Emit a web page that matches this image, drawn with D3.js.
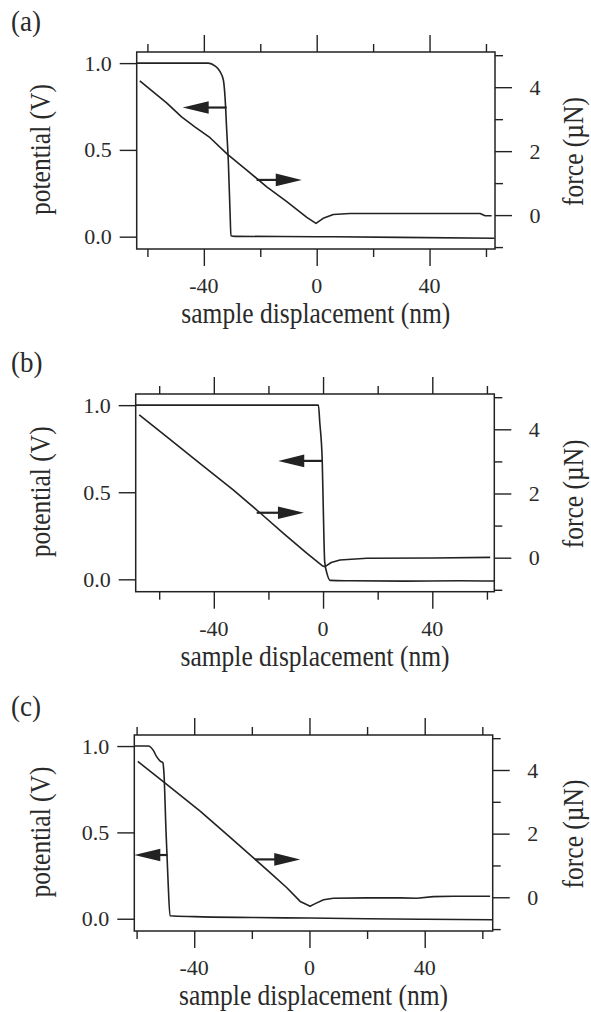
<!DOCTYPE html>
<html><head><meta charset="utf-8">
<script src="https://cdn.jsdelivr.net/npm/d3@7"></script>
<style>
body{margin:0;background:#fff}
svg{display:block}
text{font-family:"Liberation Serif","Times New Roman",serif;fill:#2a2a2a}
</style>
</head><body>
<svg id="chart" width="591" height="1012"></svg>
<script>
// ---------------- data ----------------
const xTicks = [-60, -40, -20, 0, 20, 40, 60];
const xMajor = [-40, 0, 40];
const potTicks = [0, 0.5, 1.0];
const forceTicks = [-1, 0, 1, 2, 3, 4, 5];
const forceMajor = [0, 2, 4];

const panelLabels = ["(a)", "(b)", "(c)"];
const xTitle = "sample displacement (nm)";
const potTitle = "potential (V)";
const forceTitle = "force (\u00B5N)";

// panel (a)
const aPotX = [-63.8, -38.4, -36.1, -34.3, -33.1, -32.5, -31.9, -31.3, -30.7, -30.4, -29, 0, 29.5, 63];
const aPotY = [1.0, 1.0, 0.984, 0.952, 0.904, 0.807, 0.615, 0.423, 0.135, 0.006, 0.002, 0.0, -0.004, -0.009];
const aForceX = [-62.7, -53.2, -47.9, -43.2, -37.8, -31.6, -24.8, -17.7, -10.6, -3.5, -0.25, 2.3, 5.9, 11.8, 30, 53.2, 57.9, 59.7, 62];
const aForceY = [4.20, 3.51, 3.07, 2.76, 2.42, 1.90, 1.41, 0.88, 0.42, -0.07, -0.26, -0.10, 0.02, 0.05, 0.05, 0.05, 0.05, -0.02, -0.02];
const aArrowScale = ["pot", "force"];
const aArrowY = [0.744, 1.10];
const aArrowFrom = [-31.9, -21.3];
const aArrowTo = [-47.5, -5.3];

// panel (b)
const bPotX = [-68.6, -1.7, -1.2, -0.3, 0.3, 0.6, 1.5, 2.6, 10, 30, 50, 62.7];
const bPotY = [1.0, 1.0, 0.9, 0.68, 0.25, 0.10, 0.03, -0.006, -0.008, -0.01, -0.008, -0.01];
const bForceX = [-67.3, -57.3, -45.1, -32.9, -23.1, -14.5, -6.0, -0.1, 0.7, 3.0, 6.2, 16, 40.4, 61.2];
const bForceY = [4.45, 3.77, 2.94, 2.11, 1.40, 0.76, 0.14, -0.26, -0.28, -0.15, -0.07, -0.02, -0.01, 0.01];
const bArrowScale = ["pot", "force"];
const bArrowY = [0.68, 1.40];
const bArrowFrom = [-0.2, -24.3];
const bArrowTo = [-16.4, -7.0];

// panel (c)
const cPotX = [-60.8, -55.9, -54.2, -53, -51.8, -50.9, -50.5, -49.8, -49.1, -48.4, -40, -20, 0, 20, 40, 63.6];
const cPotY = [1.0, 1.0, 0.975, 0.937, 0.913, 0.904, 0.84, 0.51, 0.225, 0.017, 0.012, 0.007, 0.004, 0.0, -0.003, -0.006];
const cForceX = [-59.6, -49, -37.95, -28, -18.85, -13, -7.85, -3.23, -1, 0.2, 2.0, 4.9, 8.3, 20, 31.5, 37.3, 43, 50, 62.7];
const cForceY = [4.27, 3.51, 2.71, 1.92, 1.19, 0.72, 0.30, -0.13, -0.23, -0.28, -0.20, -0.08, -0.03, -0.02, -0.02, -0.03, 0.02, 0.03, 0.03];
const cArrowScale = ["pot", "force"];
const cArrowY = [0.369, 1.19];
const cArrowFrom = [-49.3, -18.85];
const cArrowTo = [-60.8, -3.2];

// ---------------- layout ----------------
const layouts = [
  {left: 136.7, right: 495, top: 52, bottom: 249, xDom: [-63.8, 63.2], labelY: 31},
  {left: 135.7, right: 494.3, top: 394, bottom: 591.7, xDom: [-68.6, 62.7], labelY: 372},
  {left: 134.3, right: 492.7, top: 735, bottom: 931, xDom: [-60.8, 63.6], labelY: 716}
];
const potDom = [-0.071, 1.064];
const forceDom = [-1.06, 5.1];

const panels = [
  {potX: aPotX, potY: aPotY, fX: aForceX, fY: aForceY, arS: aArrowScale, arY: aArrowY, arF: aArrowFrom, arT: aArrowTo},
  {potX: bPotX, potY: bPotY, fX: bForceX, fY: bForceY, arS: bArrowScale, arY: bArrowY, arF: bArrowFrom, arT: bArrowTo},
  {potX: cPotX, potY: cPotY, fX: cForceX, fY: cForceY, arS: cArrowScale, arY: cArrowY, arF: cArrowFrom, arT: cArrowTo}
];

const ink = "#222";
const svg = d3.select("#chart");
const TICK_FS = 22, TITLE_FS = 25.5, STRETCH = 1.12;
const MAJ = 17, MIN = 8;
const FONT = '"Liberation Serif","Times New Roman",serif';

function styleAxis(g) {
  g.select(".domain").remove();
  g.selectAll(".tick line").attr("stroke", ink).attr("stroke-width", 1.4);
  g.selectAll("text").remove();
}
function label(g, x, y, txt, anchor) {
  g.append("text").attr("x", x).attr("y", y).attr("text-anchor", anchor)
    .attr("font-size", TICK_FS).style("font-family", FONT).attr("fill", "#2a2a2a").text(txt);
}

panels.forEach((p, i) => {
  const L = layouts[i];
  const g = svg.append("g");
  const x = d3.scaleLinear().domain(L.xDom).range([L.left, L.right]);
  const yP = d3.scaleLinear().domain(potDom).range([L.bottom, L.top]);
  const yF = d3.scaleLinear().domain(forceDom).range([L.bottom, L.top]);
  const minorX = xTicks.filter(v => !xMajor.includes(v));
  const minorF = forceTicks.filter(v => !forceMajor.includes(v));

  // top axis
  g.append("g").attr("transform", `translate(0,${L.top})`)
    .call(d3.axisTop(x).tickValues(xMajor).tickSize(MAJ)).call(styleAxis);
  g.append("g").attr("transform", `translate(0,${L.top})`)
    .call(d3.axisTop(x).tickValues(minorX).tickSize(MIN)).call(styleAxis);
  // bottom axis
  g.append("g").attr("transform", `translate(0,${L.bottom})`)
    .call(d3.axisBottom(x).tickValues(xMajor).tickSize(MAJ)).call(styleAxis);
  g.append("g").attr("transform", `translate(0,${L.bottom})`)
    .call(d3.axisBottom(x).tickValues(minorX).tickSize(MIN)).call(styleAxis);
  xMajor.forEach(v => label(g, x(v), L.bottom + 44, v < 0 ? "-" + Math.abs(v) : String(v), "middle"));
  // left axis
  g.append("g").attr("transform", `translate(${L.left},0)`)
    .call(d3.axisLeft(yP).tickValues(potTicks).tickSize(MAJ)).call(styleAxis);
  potTicks.forEach(v => label(g, L.left - 25, yP(v) + 7.5, d3.format(".1f")(v), "end"));
  // right axis
  g.append("g").attr("transform", `translate(${L.right},0)`)
    .call(d3.axisRight(yF).tickValues(forceMajor).tickSize(MAJ)).call(styleAxis);
  g.append("g").attr("transform", `translate(${L.right},0)`)
    .call(d3.axisRight(yF).tickValues(minorF).tickSize(MIN)).call(styleAxis);
  forceMajor.forEach(v => label(g, L.right + 40, yF(v) + 7.5, String(v), "middle"));

  // frame
  g.append("rect").attr("x", L.left).attr("y", L.top)
    .attr("width", L.right - L.left).attr("height", L.bottom - L.top)
    .attr("fill", "none").attr("stroke", ink).attr("stroke-width", 1.5);

  // curves
  const potData = p.potX.map((v, k) => [v, p.potY[k]]);
  const fData = p.fX.map((v, k) => [v, p.fY[k]]);
  g.append("path").datum(potData)
    .attr("d", d3.line().x(d => x(d[0])).y(d => yP(d[1])).curve(d3.curveMonotoneX))
    .attr("fill", "none").attr("stroke", ink).attr("stroke-width", 1.6);
  g.append("path").datum(fData)
    .attr("d", d3.line().x(d => x(d[0])).y(d => yF(d[1])))
    .attr("fill", "none").attr("stroke", ink).attr("stroke-width", 1.6).attr("stroke-linejoin", "round");

  // arrows
  const HL = 26, HW = 6.3;
  p.arS.forEach((s, k) => {
    const sc = s === "pot" ? yP : yF;
    const yy = sc(p.arY[k]);
    const x1 = x(p.arF[k]), x2 = x(p.arT[k]);
    const dir = Math.sign(x2 - x1);
    g.append("line").attr("x1", x1).attr("x2", x2 - dir * (HL - 2)).attr("y1", yy).attr("y2", yy)
      .attr("stroke", ink).attr("stroke-width", 2.2);
    g.append("path")
      .attr("d", `M${x2},${yy}L${x2 - dir * HL},${yy - HW}L${x2 - dir * HL},${yy + HW}Z`)
      .attr("fill", ink);
  });

  // titles
  g.append("text").attr("transform", `translate(${(L.left + L.right) / 2},${L.bottom + 74}) scale(1,${STRETCH})`)
    .attr("text-anchor", "middle").attr("font-size", TITLE_FS).text(xTitle);
  g.append("text").attr("transform", `translate(50,${(L.top + L.bottom) / 2 - 1}) rotate(-90) scale(1,${STRETCH})`)
    .attr("text-anchor", "middle").attr("font-size", TITLE_FS).text(potTitle);
  g.append("text").attr("transform", `translate(583,${(L.top + L.bottom) / 2 + 1}) rotate(-90) scale(1,${STRETCH})`)
    .attr("text-anchor", "middle").attr("font-size", TITLE_FS).text(forceTitle);
  g.append("text").attr("transform", `translate(11,${L.labelY}) scale(1,${STRETCH})`)
    .attr("font-size", 27).text(panelLabels[i]);
});
</script>
</body></html>
